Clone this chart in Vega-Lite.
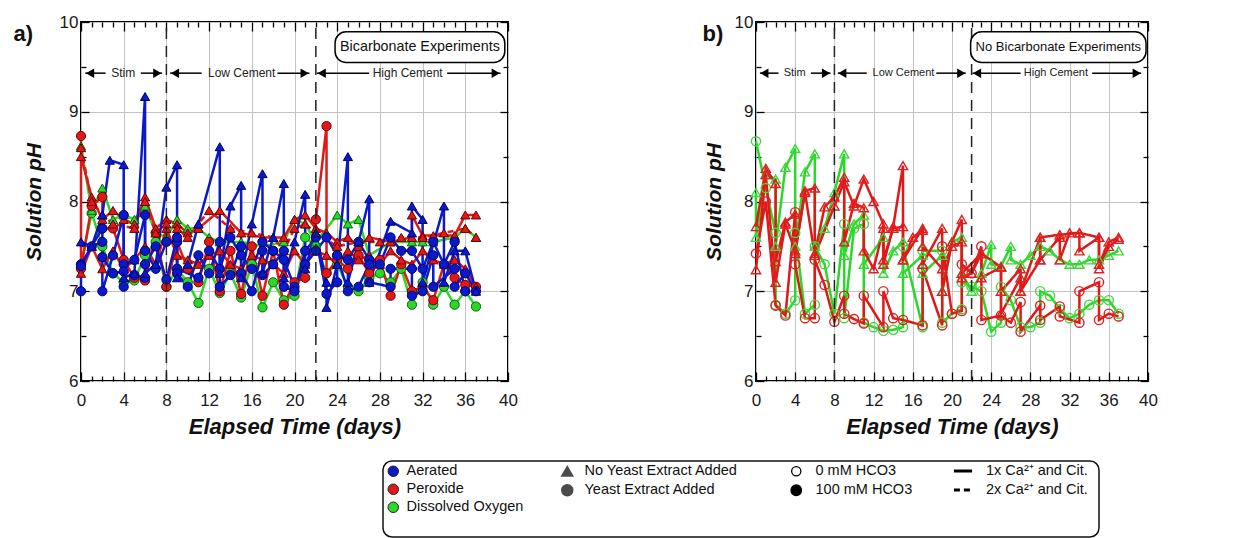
{
"$schema": "https://vega.github.io/schema/vega-lite/v6.json",
"padding": {"left": 12, "top": 12, "right": 5, "bottom": 0},
"spacing": 22,
"datasets": {
"series": [
{"s":"D2","p":"a","c":"Dissolved Oxygen","fc":"Dissolved Oxygen","y":"Yeast Extract Added","h":"100 mM HCO3","d":"1x Ca²⁺ and Cit.","k":"aD"},
{"s":"D1","p":"a","c":"Dissolved Oxygen","fc":"Dissolved Oxygen","y":"No Yeast Extract Added","h":"100 mM HCO3","d":"1x Ca²⁺ and Cit.","k":"aD"},
{"s":"P2","p":"a","c":"Peroxide","fc":"Peroxide","y":"Yeast Extract Added","h":"100 mM HCO3","d":"1x Ca²⁺ and Cit.","k":"aP"},
{"s":"P1","p":"a","c":"Peroxide","fc":"Peroxide","y":"No Yeast Extract Added","h":"100 mM HCO3","d":"1x Ca²⁺ and Cit.","k":"aP"},
{"s":"P4","p":"a","c":"Peroxide","fc":"Peroxide","y":"No Yeast Extract Added","h":"100 mM HCO3","d":"1x Ca²⁺ and Cit.","k":"aP"},
{"s":"P3","p":"a","c":"Peroxide","fc":"Peroxide","y":"No Yeast Extract Added","h":"100 mM HCO3","d":"2x Ca²⁺ and Cit.","k":"aP"},
{"s":"A3","p":"a","c":"Aerated","fc":"Aerated","y":"Yeast Extract Added","h":"100 mM HCO3","d":"1x Ca²⁺ and Cit.","k":"aA"},
{"s":"A2","p":"a","c":"Aerated","fc":"Aerated","y":"Yeast Extract Added","h":"100 mM HCO3","d":"1x Ca²⁺ and Cit.","k":"aA"},
{"s":"A1","p":"a","c":"Aerated","fc":"Aerated","y":"No Yeast Extract Added","h":"100 mM HCO3","d":"1x Ca²⁺ and Cit.","k":"aA"},
{"s":"bD2","p":"b","c":"Dissolved Oxygen","fc":"open","y":"Yeast Extract Added","h":"0 mM HCO3","d":"1x Ca²⁺ and Cit.","k":"bD"},
{"s":"bD1","p":"b","c":"Dissolved Oxygen","fc":"open","y":"No Yeast Extract Added","h":"0 mM HCO3","d":"1x Ca²⁺ and Cit.","k":"bD"},
{"s":"bP2","p":"b","c":"Peroxide","fc":"open","y":"Yeast Extract Added","h":"0 mM HCO3","d":"1x Ca²⁺ and Cit.","k":"bP"},
{"s":"bP1","p":"b","c":"Peroxide","fc":"open","y":"No Yeast Extract Added","h":"0 mM HCO3","d":"1x Ca²⁺ and Cit.","k":"bP"},
{"s":"bP3","p":"b","c":"Peroxide","fc":"open","y":"No Yeast Extract Added","h":"0 mM HCO3","d":"1x Ca²⁺ and Cit.","k":"bP"}
],
"obs": [
{"s":"D2","t":0,"v":7.3},{"s":"D2","t":1,"v":7.87},{"s":"D2","t":2,"v":7.5},{"s":"D2","t":3,"v":7.2},{"s":"D2","t":4,"v":7.1},{"s":"D2","t":5,"v":7.12},{"s":"D2","t":6,"v":7.4},{"s":"D2","t":7,"v":7.55},{"s":"D2","t":8,"v":7.05},{"s":"D2","t":9,"v":7.25},{"s":"D2","t":10,"v":7.1},{"s":"D2","t":11,"v":6.87},{"s":"D2","t":12,"v":7.25},{"s":"D2","t":13,"v":6.98},{"s":"D2","t":14,"v":7.2},{"s":"D2","t":15,"v":6.93},{"s":"D2","t":16,"v":7.3},{"s":"D2","t":17,"v":6.82},{"s":"D2","t":18,"v":7.1},{"s":"D2","t":19,"v":6.9},{"s":"D2","t":20,"v":6.95},{"s":"D2","t":21,"v":7.6},{"s":"D2","t":22,"v":7.5},{"s":"D2","t":23,"v":7.2},{"s":"D2","t":24,"v":7.3},{"s":"D2","t":25,"v":7.05},{"s":"D2","t":26,"v":7.0},{"s":"D2","t":27,"v":7.15},{"s":"D2","t":28,"v":7.2},{"s":"D2","t":29,"v":7.1},{"s":"D2","t":30,"v":7.25},{"s":"D2","t":31,"v":6.85},{"s":"D2","t":32,"v":7.1},{"s":"D2","t":33,"v":6.85},{"s":"D2","t":34,"v":7.05},{"s":"D2","t":35,"v":6.85},{"s":"D2","t":36,"v":7.0},{"s":"D2","t":37,"v":6.83},
{"s":"D1","t":0,"v":8.62},{"s":"D1","t":1,"v":7.9},{"s":"D1","t":2,"v":8.15},{"s":"D1","t":3,"v":7.8},{"s":"D1","t":4,"v":7.85},{"s":"D1","t":5,"v":7.8},{"s":"D1","t":6,"v":7.95},{"s":"D1","t":7,"v":7.65},{"s":"D1","t":8,"v":7.6},{"s":"D1","t":9,"v":7.8},{"s":"D1","t":10,"v":7.7},{"s":"D1","t":11,"v":7.7},{"s":"D1","t":12,"v":7.6},{"s":"D1","t":13,"v":7.55},{"s":"D1","t":15,"v":7.55},{"s":"D1","t":17,"v":7.5},{"s":"D1","t":19,"v":7.55},{"s":"D1","t":20,"v":7.8},{"s":"D1","t":21,"v":7.75},{"s":"D1","t":22,"v":7.55},{"s":"D1","t":24,"v":7.85},{"s":"D1","t":25,"v":7.75},{"s":"D1","t":26,"v":7.8},{"s":"D1","t":27,"v":7.4},{"s":"D1","t":29,"v":7.55},{"s":"D1","t":31,"v":7.55},{"s":"D1","t":32,"v":7.55},{"s":"D1","t":33,"v":7.55},{"s":"D1","t":35,"v":7.6},{"s":"D1","t":36,"v":7.7},{"s":"D1","t":37,"v":7.6},
{"s":"P2","t":0,"v":8.73},{"s":"P2","t":0,"v":7.25},{"s":"P2","t":1,"v":7.95},{"s":"P2","t":2,"v":8.05},{"s":"P2","t":2,"v":7.7},{"s":"P2","t":3,"v":7.7},{"s":"P2","t":4,"v":7.35},{"s":"P2","t":5,"v":7.15},{"s":"P2","t":6,"v":7.12},{"s":"P2","t":7,"v":7.65},{"s":"P2","t":8,"v":7.05},{"s":"P2","t":9,"v":7.55},{"s":"P2","t":10,"v":7.25},{"s":"P2","t":11,"v":7.1},{"s":"P2","t":12,"v":7.55},{"s":"P2","t":13,"v":7.0},{"s":"P2","t":14,"v":7.45},{"s":"P2","t":15,"v":6.97},{"s":"P2","t":16,"v":7.5},{"s":"P2","t":17,"v":6.95},{"s":"P2","t":18,"v":7.45},{"s":"P2","t":19,"v":6.85},{"s":"P2","t":20,"v":7.1},{"s":"P2","t":21,"v":7.15},{"s":"P2","t":22,"v":7.8},{"s":"P2","t":23,"v":8.84},{"s":"P2","t":23,"v":7.2},{"s":"P2","t":24,"v":7.35},{"s":"P2","t":25,"v":7.25},{"s":"P2","t":26,"v":7.4},{"s":"P2","t":27,"v":7.2},{"s":"P2","t":28,"v":7.35},{"s":"P2","t":29,"v":6.95},{"s":"P2","t":30,"v":7.3},{"s":"P2","t":31,"v":7.0},{"s":"P2","t":32,"v":7.05},{"s":"P2","t":33,"v":6.9},{"s":"P2","t":34,"v":7.3},{"s":"P2","t":35,"v":7.15},{"s":"P2","t":36,"v":7.07},{"s":"P2","t":37,"v":7.05},
{"s":"P1","t":0,"v":8.5},{"s":"P1","t":1,"v":8.05},{"s":"P1","t":2,"v":7.8},{"s":"P1","t":3,"v":7.9},{"s":"P1","t":4,"v":7.8},{"s":"P1","t":5,"v":7.75},{"s":"P1","t":6,"v":8.05},{"s":"P1","t":7,"v":7.7},{"s":"P1","t":8,"v":7.8},{"s":"P1","t":9,"v":7.75},{"s":"P1","t":10,"v":7.65},{"s":"P1","t":11,"v":7.7},{"s":"P1","t":13,"v":7.9},{"s":"P1","t":15,"v":7.65},{"s":"P1","t":17,"v":7.6},{"s":"P1","t":19,"v":7.6},{"s":"P1","t":20,"v":7.8},{"s":"P1","t":21,"v":7.85},{"s":"P1","t":22,"v":7.7},{"s":"P1","t":23,"v":7.65},{"s":"P1","t":24,"v":7.55},{"s":"P1","t":25,"v":7.6},{"s":"P1","t":26,"v":7.5},{"s":"P1","t":27,"v":7.6},{"s":"P1","t":29,"v":7.55},{"s":"P1","t":31,"v":7.6},{"s":"P1","t":31,"v":7.85},{"s":"P1","t":32,"v":7.62},{"s":"P1","t":33,"v":7.62},{"s":"P1","t":35,"v":7.62},{"s":"P1","t":36,"v":7.85},{"s":"P1","t":37,"v":7.85},
{"s":"P4","t":0,"v":7.2},{"s":"P4","t":1,"v":7.5},{"s":"P4","t":2,"v":7.25},{"s":"P4","t":3,"v":7.45},{"s":"P4","t":4,"v":7.25},{"s":"P4","t":5,"v":7.35},{"s":"P4","t":6,"v":7.5},{"s":"P4","t":7,"v":7.3},{"s":"P4","t":8,"v":7.7},{"s":"P4","t":9,"v":7.4},{"s":"P4","t":10,"v":7.35},{"s":"P4","t":11,"v":7.3},{"s":"P4","t":12,"v":7.4},{"s":"P4","t":13,"v":7.45},{"s":"P4","t":14,"v":7.3},{"s":"P4","t":15,"v":7.25},{"s":"P4","t":16,"v":7.4},{"s":"P4","t":17,"v":7.35},{"s":"P4","t":18,"v":7.3},{"s":"P4","t":19,"v":7.2},{"s":"P4","t":20,"v":7.45},{"s":"P4","t":21,"v":7.3},{"s":"P4","t":22,"v":7.45},{"s":"P4","t":23,"v":7.4},{"s":"P4","t":24,"v":7.3},{"s":"P4","t":25,"v":7.45},{"s":"P4","t":26,"v":7.35},{"s":"P4","t":27,"v":7.4},{"s":"P4","t":28,"v":7.3},{"s":"P4","t":29,"v":7.45},{"s":"P4","t":30,"v":7.35},{"s":"P4","t":31,"v":7.3},{"s":"P4","t":32,"v":7.45},{"s":"P4","t":33,"v":7.35},{"s":"P4","t":34,"v":7.3},{"s":"P4","t":35,"v":7.35},{"s":"P4","t":36,"v":7.25},{"s":"P4","t":37,"v":7.05},
{"s":"P3","t":0,"v":8.6},{"s":"P3","t":1,"v":8.0},{"s":"P3","t":2,"v":7.85},{"s":"P3","t":3,"v":7.75},{"s":"P3","t":5,"v":7.7},{"s":"P3","t":6,"v":8.0},{"s":"P3","t":7,"v":7.65},{"s":"P3","t":8,"v":7.75},{"s":"P3","t":9,"v":7.7},{"s":"P3","t":10,"v":7.6},{"s":"P3","t":11,"v":7.75},{"s":"P3","t":12,"v":7.9},{"s":"P3","t":14,"v":7.7},{"s":"P3","t":16,"v":7.65},{"s":"P3","t":18,"v":7.6},{"s":"P3","t":19,"v":7.45},{"s":"P3","t":20,"v":7.7},{"s":"P3","t":21,"v":7.75},{"s":"P3","t":22,"v":7.65},{"s":"P3","t":24,"v":7.5},{"s":"P3","t":26,"v":7.55},{"s":"P3","t":28,"v":7.55},{"s":"P3","t":30,"v":7.6},{"s":"P3","t":32,"v":7.6},{"s":"P3","t":34,"v":7.65},{"s":"P3","t":36,"v":7.7},{"s":"P3","t":37,"v":7.6},
{"s":"A3","t":0,"v":7.3},{"s":"A3","t":2,"v":7.7},{"s":"A3","t":2,"v":7.0},{"s":"A3","t":3,"v":7.4},{"s":"A3","t":4,"v":7.85},{"s":"A3","t":4,"v":7.3},{"s":"A3","t":5,"v":7.35},{"s":"A3","t":6,"v":7.85},{"s":"A3","t":6,"v":7.45},{"s":"A3","t":7,"v":7.25},{"s":"A3","t":8,"v":7.55},{"s":"A3","t":9,"v":7.55},{"s":"A3","t":9,"v":7.25},{"s":"A3","t":11,"v":7.15},{"s":"A3","t":12,"v":7.45},{"s":"A3","t":13,"v":7.25},{"s":"A3","t":14,"v":7.6},{"s":"A3","t":15,"v":7.4},{"s":"A3","t":16,"v":7.25},{"s":"A3","t":17,"v":7.55},{"s":"A3","t":18,"v":7.45},{"s":"A3","t":19,"v":7.35},{"s":"A3","t":20,"v":7.05},{"s":"A3","t":21,"v":7.3},{"s":"A3","t":22,"v":7.45},{"s":"A3","t":23,"v":7.6},{"s":"A3","t":24,"v":7.4},{"s":"A3","t":25,"v":7.35},{"s":"A3","t":26,"v":7.55},{"s":"A3","t":27,"v":7.35},{"s":"A3","t":28,"v":7.3},{"s":"A3","t":29,"v":7.6},{"s":"A3","t":30,"v":7.45},{"s":"A3","t":31,"v":7.45},{"s":"A3","t":32,"v":7.25},{"s":"A3","t":33,"v":7.55},{"s":"A3","t":34,"v":7.3},{"s":"A3","t":35,"v":7.55},{"s":"A3","t":36,"v":7.0},
{"s":"A2","t":0,"v":7.0},{"s":"A2","t":0,"v":7.28},{"s":"A2","t":1,"v":7.5},{"s":"A2","t":2,"v":7.55},{"s":"A2","t":2,"v":7.38},{"s":"A2","t":3,"v":7.2},{"s":"A2","t":4,"v":7.22},{"s":"A2","t":4,"v":7.05},{"s":"A2","t":5,"v":7.18},{"s":"A2","t":6,"v":7.15},{"s":"A2","t":6,"v":7.3},{"s":"A2","t":7,"v":7.5},{"s":"A2","t":8,"v":7.13},{"s":"A2","t":9,"v":7.6},{"s":"A2","t":9,"v":7.2},{"s":"A2","t":10,"v":7.05},{"s":"A2","t":11,"v":7.4},{"s":"A2","t":12,"v":7.2},{"s":"A2","t":13,"v":7.55},{"s":"A2","t":13,"v":7.05},{"s":"A2","t":14,"v":7.18},{"s":"A2","t":15,"v":7.5},{"s":"A2","t":15,"v":7.2},{"s":"A2","t":16,"v":7.0},{"s":"A2","t":17,"v":7.45},{"s":"A2","t":17,"v":7.18},{"s":"A2","t":18,"v":7.3},{"s":"A2","t":19,"v":7.45},{"s":"A2","t":19,"v":7.05},{"s":"A2","t":20,"v":7.0},{"s":"A2","t":21,"v":7.45},{"s":"A2","t":22,"v":7.6},{"s":"A2","t":23,"v":6.97},{"s":"A2","t":24,"v":7.1},{"s":"A2","t":24,"v":7.4},{"s":"A2","t":25,"v":7.0},{"s":"A2","t":26,"v":7.05},{"s":"A2","t":27,"v":7.3},{"s":"A2","t":27,"v":7.1},{"s":"A2","t":29,"v":7.05},{"s":"A2","t":29,"v":7.25},{"s":"A2","t":31,"v":7.25},{"s":"A2","t":31,"v":6.95},{"s":"A2","t":32,"v":7.0},{"s":"A2","t":33,"v":7.4},{"s":"A2","t":33,"v":7.05},{"s":"A2","t":35,"v":7.25},{"s":"A2","t":35,"v":7.05},{"s":"A2","t":36,"v":7.2},{"s":"A2","t":37,"v":7.0},
{"s":"A1","t":0,"v":7.55},{"s":"A1","t":1,"v":7.5},{"s":"A1","t":2,"v":7.85},{"s":"A1","t":2.7,"v":8.46},{"s":"A1","t":4,"v":8.41},{"s":"A1","t":4,"v":7.15},{"s":"A1","t":5,"v":7.2},{"s":"A1","t":6,"v":9.17},{"s":"A1","t":6,"v":7.2},{"s":"A1","t":7,"v":7.3},{"s":"A1","t":8,"v":8.16},{"s":"A1","t":9,"v":8.41},{"s":"A1","t":9,"v":7.15},{"s":"A1","t":10,"v":7.3},{"s":"A1","t":11,"v":7.75},{"s":"A1","t":13,"v":8.61},{"s":"A1","t":13,"v":7.2},{"s":"A1","t":14,"v":7.95},{"s":"A1","t":15,"v":8.18},{"s":"A1","t":15,"v":7.15},{"s":"A1","t":16,"v":7.75},{"s":"A1","t":17,"v":8.31},{"s":"A1","t":17,"v":7.2},{"s":"A1","t":18,"v":7.6},{"s":"A1","t":19,"v":8.2},{"s":"A1","t":19,"v":7.15},{"s":"A1","t":20,"v":7.55},{"s":"A1","t":21,"v":8.08},{"s":"A1","t":21,"v":7.25},{"s":"A1","t":22,"v":7.65},{"s":"A1","t":23,"v":7.1},{"s":"A1","t":23,"v":6.82},{"s":"A1","t":24,"v":7.3},{"s":"A1","t":25,"v":8.5},{"s":"A1","t":25,"v":7.1},{"s":"A1","t":26,"v":7.55},{"s":"A1","t":27,"v":8.03},{"s":"A1","t":27,"v":7.1},{"s":"A1","t":29,"v":7.78},{"s":"A1","t":31,"v":7.65},{"s":"A1","t":31,"v":7.95},{"s":"A1","t":32,"v":7.8},{"s":"A1","t":32,"v":7.1},{"s":"A1","t":34,"v":7.95},{"s":"A1","t":34,"v":7.1},{"s":"A1","t":35,"v":7.45},{"s":"A1","t":36,"v":7.45},{"s":"A1","t":37,"v":7.0},
{"s":"bD2","t":0,"v":8.67},{"s":"bD2","t":1,"v":8.15},{"s":"bD2","t":2,"v":7.65},{"s":"bD2","t":2,"v":6.85},{"s":"bD2","t":3,"v":6.75},{"s":"bD2","t":4,"v":6.9},{"s":"bD2","t":4,"v":7.65},{"s":"bD2","t":5,"v":6.75},{"s":"bD2","t":6,"v":6.85},{"s":"bD2","t":6,"v":7.5},{"s":"bD2","t":7,"v":7.3},{"s":"bD2","t":8,"v":6.75},{"s":"bD2","t":9,"v":7.75},{"s":"bD2","t":9,"v":6.7},{"s":"bD2","t":10,"v":7.7},{"s":"bD2","t":11,"v":7.75},{"s":"bD2","t":11,"v":6.65},{"s":"bD2","t":12,"v":6.6},{"s":"bD2","t":13,"v":6.56},{"s":"bD2","t":14,"v":6.57},{"s":"bD2","t":15,"v":6.6},{"s":"bD2","t":15,"v":7.5},{"s":"bD2","t":17,"v":6.6},{"s":"bD2","t":17,"v":7.45},{"s":"bD2","t":19,"v":7.45},{"s":"bD2","t":19,"v":6.65},{"s":"bD2","t":20,"v":6.75},{"s":"bD2","t":21,"v":6.8},{"s":"bD2","t":21,"v":7.1},{"s":"bD2","t":22,"v":7.05},{"s":"bD2","t":23,"v":7.0},{"s":"bD2","t":24,"v":6.55},{"s":"bD2","t":25,"v":6.65},{"s":"bD2","t":25,"v":7.05},{"s":"bD2","t":26,"v":6.9},{"s":"bD2","t":27,"v":6.6},{"s":"bD2","t":28,"v":6.6},{"s":"bD2","t":29,"v":6.65},{"s":"bD2","t":29,"v":7.0},{"s":"bD2","t":30,"v":6.95},{"s":"bD2","t":31,"v":6.8},{"s":"bD2","t":32,"v":6.7},{"s":"bD2","t":33,"v":6.75},{"s":"bD2","t":34,"v":6.85},{"s":"bD2","t":35,"v":6.9},{"s":"bD2","t":36,"v":6.9},{"s":"bD2","t":37,"v":6.75},
{"s":"bD1","t":0,"v":8.1},{"s":"bD1","t":0,"v":7.6},{"s":"bD1","t":1,"v":8.3},{"s":"bD1","t":2,"v":8.25},{"s":"bD1","t":2,"v":7.5},{"s":"bD1","t":3,"v":8.38},{"s":"bD1","t":4,"v":8.59},{"s":"bD1","t":4,"v":7.5},{"s":"bD1","t":5,"v":8.33},{"s":"bD1","t":6,"v":8.53},{"s":"bD1","t":6,"v":7.5},{"s":"bD1","t":7,"v":7.7},{"s":"bD1","t":8,"v":8.1},{"s":"bD1","t":9,"v":8.53},{"s":"bD1","t":9,"v":7.4},{"s":"bD1","t":10,"v":7.75},{"s":"bD1","t":11,"v":7.85},{"s":"bD1","t":11,"v":7.3},{"s":"bD1","t":13,"v":7.6},{"s":"bD1","t":13,"v":7.2},{"s":"bD1","t":14,"v":7.45},{"s":"bD1","t":15,"v":7.55},{"s":"bD1","t":15,"v":7.2},{"s":"bD1","t":17,"v":7.4},{"s":"bD1","t":17,"v":7.2},{"s":"bD1","t":19,"v":7.4},{"s":"bD1","t":19,"v":7.0},{"s":"bD1","t":20,"v":7.55},{"s":"bD1","t":21,"v":7.6},{"s":"bD1","t":21,"v":7.2},{"s":"bD1","t":22,"v":7.0},{"s":"bD1","t":23,"v":7.2},{"s":"bD1","t":24,"v":7.52},{"s":"bD1","t":24,"v":7.3},{"s":"bD1","t":25,"v":7.28},{"s":"bD1","t":26,"v":7.5},{"s":"bD1","t":26,"v":7.35},{"s":"bD1","t":27,"v":7.3},{"s":"bD1","t":28,"v":7.4},{"s":"bD1","t":29,"v":7.5},{"s":"bD1","t":30,"v":7.45},{"s":"bD1","t":31,"v":7.35},{"s":"bD1","t":32,"v":7.3},{"s":"bD1","t":33,"v":7.3},{"s":"bD1","t":34,"v":7.35},{"s":"bD1","t":35,"v":7.35},{"s":"bD1","t":36,"v":7.4},{"s":"bD1","t":37,"v":7.45},
{"s":"bP2","t":0,"v":7.42},{"s":"bP2","t":1,"v":8.0},{"s":"bP2","t":2,"v":6.84},{"s":"bP2","t":3,"v":6.73},{"s":"bP2","t":4,"v":7.88},{"s":"bP2","t":4,"v":7.3},{"s":"bP2","t":5,"v":6.7},{"s":"bP2","t":6,"v":6.7},{"s":"bP2","t":6,"v":7.35},{"s":"bP2","t":7,"v":7.07},{"s":"bP2","t":8,"v":6.66},{"s":"bP2","t":9,"v":6.95},{"s":"bP2","t":9,"v":6.75},{"s":"bP2","t":10,"v":6.69},{"s":"bP2","t":11,"v":6.64},{"s":"bP2","t":11,"v":6.95},{"s":"bP2","t":13,"v":6.6},{"s":"bP2","t":13,"v":7.0},{"s":"bP2","t":14,"v":6.7},{"s":"bP2","t":15,"v":6.68},{"s":"bP2","t":17,"v":6.62},{"s":"bP2","t":17,"v":7.25},{"s":"bP2","t":19,"v":6.62},{"s":"bP2","t":19,"v":7.5},{"s":"bP2","t":20,"v":6.75},{"s":"bP2","t":21,"v":6.78},{"s":"bP2","t":21,"v":7.3},{"s":"bP2","t":22,"v":7.2},{"s":"bP2","t":23,"v":7.5},{"s":"bP2","t":23,"v":6.68},{"s":"bP2","t":25,"v":6.73},{"s":"bP2","t":26,"v":6.65},{"s":"bP2","t":27,"v":6.88},{"s":"bP2","t":27,"v":6.55},{"s":"bP2","t":29,"v":6.84},{"s":"bP2","t":29,"v":6.68},{"s":"bP2","t":31,"v":6.83},{"s":"bP2","t":31,"v":6.72},{"s":"bP2","t":33,"v":6.65},{"s":"bP2","t":33,"v":7.0},{"s":"bP2","t":35,"v":7.1},{"s":"bP2","t":35,"v":6.68},{"s":"bP2","t":36,"v":6.75},{"s":"bP2","t":37,"v":6.72},
{"s":"bP1","t":0,"v":7.72},{"s":"bP1","t":1,"v":8.37},{"s":"bP1","t":2,"v":8.2},{"s":"bP1","t":2,"v":7.33},{"s":"bP1","t":3,"v":7.77},{"s":"bP1","t":4,"v":7.86},{"s":"bP1","t":4,"v":7.42},{"s":"bP1","t":5,"v":8.12},{"s":"bP1","t":6,"v":8.15},{"s":"bP1","t":6,"v":7.42},{"s":"bP1","t":7,"v":7.94},{"s":"bP1","t":8,"v":8.05},{"s":"bP1","t":9,"v":8.27},{"s":"bP1","t":9,"v":7.55},{"s":"bP1","t":10,"v":7.98},{"s":"bP1","t":11,"v":7.93},{"s":"bP1","t":11,"v":7.45},{"s":"bP1","t":12,"v":7.25},{"s":"bP1","t":13,"v":7.7},{"s":"bP1","t":13,"v":7.3},{"s":"bP1","t":14,"v":7.72},{"s":"bP1","t":15,"v":8.4},{"s":"bP1","t":15,"v":7.35},{"s":"bP1","t":16,"v":7.6},{"s":"bP1","t":17,"v":7.68},{"s":"bP1","t":17,"v":7.3},{"s":"bP1","t":19,"v":7.7},{"s":"bP1","t":19,"v":7.0},{"s":"bP1","t":20,"v":7.55},{"s":"bP1","t":21,"v":7.8},{"s":"bP1","t":21,"v":7.2},{"s":"bP1","t":23,"v":7.42},{"s":"bP1","t":23,"v":7.15},{"s":"bP1","t":25,"v":7.27},{"s":"bP1","t":25,"v":7.0},{"s":"bP1","t":27,"v":7.25},{"s":"bP1","t":27,"v":7.0},{"s":"bP1","t":29,"v":7.35},{"s":"bP1","t":29,"v":7.6},{"s":"bP1","t":31,"v":7.63},{"s":"bP1","t":33,"v":7.65},{"s":"bP1","t":33,"v":7.45},{"s":"bP1","t":35,"v":7.6},{"s":"bP1","t":35,"v":7.3},{"s":"bP1","t":36,"v":7.55},{"s":"bP1","t":37,"v":7.6},
{"s":"bP3","t":0,"v":7.24},{"s":"bP3","t":1,"v":8.3},{"s":"bP3","t":2,"v":7.1},{"s":"bP3","t":3,"v":7.75},{"s":"bP3","t":4,"v":7.45},{"s":"bP3","t":5,"v":8.1},{"s":"bP3","t":6,"v":7.4},{"s":"bP3","t":8,"v":7.95},{"s":"bP3","t":9,"v":8.22},{"s":"bP3","t":10,"v":7.95},{"s":"bP3","t":11,"v":8.25},{"s":"bP3","t":12,"v":8.0},{"s":"bP3","t":13,"v":7.75},{"s":"bP3","t":13,"v":7.35},{"s":"bP3","t":14,"v":7.7},{"s":"bP3","t":15,"v":7.72},{"s":"bP3","t":15,"v":7.35},{"s":"bP3","t":17,"v":7.7},{"s":"bP3","t":17,"v":7.5},{"s":"bP3","t":19,"v":7.25},{"s":"bP3","t":20,"v":7.5},{"s":"bP3","t":21,"v":7.55},{"s":"bP3","t":21,"v":7.15},{"s":"bP3","t":22,"v":7.2},{"s":"bP3","t":23,"v":7.42},{"s":"bP3","t":25,"v":7.27},{"s":"bP3","t":25,"v":6.75},{"s":"bP3","t":27,"v":7.15},{"s":"bP3","t":27,"v":7.0},{"s":"bP3","t":29,"v":7.6},{"s":"bP3","t":29,"v":7.35},{"s":"bP3","t":31,"v":7.6},{"s":"bP3","t":31,"v":7.35},{"s":"bP3","t":32,"v":7.65},{"s":"bP3","t":33,"v":7.65},{"s":"bP3","t":35,"v":7.6},{"s":"bP3","t":35,"v":7.25},{"s":"bP3","t":36,"v":7.5},{"s":"bP3","t":37,"v":7.58}
],
"seg": [{"x1":0.4,"x2":2.3},{"x1":5.6,"x2":7.6},{"x1":8.35,"x2":11.3},{"x1":18.4,"x2":21.4},{"x1":22.1,"x2":27.0},{"x1":34.3,"x2":39.3}],
"heads": [{"x":0.85,"dir":"L"},{"x":7.15,"dir":"R"},{"x":8.8,"dir":"L"},{"x":20.95,"dir":"R"},{"x":22.55,"dir":"L"},{"x":38.85,"dir":"R"}],
"phase": [{"x":3.95,"label":"Stim"},{"x":15.05,"label":"Low Cement"},{"x":30.6,"label":"High Cement"}],
"vlines": [{"x":8},{"x":22}],
"boxes": [{"p":"a","x1":23.8,"x2":39.7,"xc":31.75,"label":"Bicarbonate Experiments"},{"p":"b","x1":21.9,"x2":39.8,"xc":30.85,"label":"No Bicarbonate Experiments"}],
"tags": [{"p":"a","x":-5.4,"label":"a)"},{"p":"b","x":-4.4,"label":"b)"}]
},
"vconcat": [
{"spacing": 182, "hconcat": [
{
"width": 427, "height": 359,
"resolve": {"axis": {"x": "independent", "y": "independent"}},
"layer": [
{"data": {"name": "obs"},
 "transform": [{"lookup": "s", "from": {"data": {"name": "series"}, "key": "s", "fields": ["p","c","fc","y","h","d","k"]}}, {"filter": "datum.p === 'a'"}],
 "mark": {"type": "line", "strokeWidth": 2.5},
 "encoding": {
  "x": {"field": "t", "type": "quantitative", "scale": {"domain": [0,40], "nice": false, "zero": false},
   "axis": {"orient": "bottom", "values": [0,1,2,3,4,5,6,7,8,9,10,11,12,13,14,15,16,17,18,19,20,21,22,23,24,25,26,27,28,29,30,31,32,33,34,35,36,37,38,39,40], "format": "~g", "labelExpr": "datum.value % 4 === 0 ? datum.label : ''", "labelOverlap": false, "labelFlush": false, "tickSize": {"condition": {"test": "datum.value % 4 === 0", "value": -9}, "value": -5}, "grid": true, "gridOpacity": {"condition": {"test": "datum.value % 4 === 0", "value": 1}, "value": 0}, "labelPadding": 20, "title": "Elapsed Time (days)", "titlePadding": 4}},
  "y": {"field": "v", "type": "quantitative", "scale": {"domain": [6,10], "nice": false, "zero": false},
   "axis": {"orient": "left", "values": [6,6.5,7,7.5,8,8.5,9,9.5,10], "format": "~g", "labelExpr": "datum.value % 1 === 0 ? datum.label : ''", "labelOverlap": false, "labelFlush": false, "tickSize": {"condition": {"test": "datum.value % 1 === 0", "value": -8}, "value": -5}, "grid": true, "gridOpacity": {"condition": {"test": "datum.value % 1 === 0", "value": 1}, "value": 0}, "labelPadding": 11, "title": "Solution pH", "titleFontSize": 21, "titlePadding": 15}},
  "color": {"field": "c", "type": "nominal", "scale": {"domain": ["Peroxide","Aerated","Dissolved Oxygen"], "range": ["#e01818","#0a1ac8","#2ad82a"]}, "legend": null},
  "strokeDash": {"field": "d", "type": "nominal", "scale": {"domain": ["1x Ca²⁺ and Cit.","2x Ca²⁺ and Cit."], "range": [[1,0],[6,4]]}, "legend": {"orient": "none", "legendX": 871, "legendY": 438, "title": null, "symbolType": "stroke", "symbolStrokeColor": "black", "symbolStrokeWidth": 3, "symbolSize": 330, "labelOffset": 12, "rowPadding": 1}},
  "detail": {"field": "s"},
  "order": {"value": null}
 }},
{"data": {"name": "obs"},
 "transform": [{"lookup": "s", "from": {"data": {"name": "series"}, "key": "s", "fields": ["p","c","fc","y","h","d","k"]}}, {"filter": "datum.p === 'a'"}],
 "mark": {"type": "point", "filled": true, "strokeWidth": 1},
 "encoding": {
  "x": {"field": "t", "type": "quantitative", "scale": {"domain": [0,40], "nice": false, "zero": false},
   "axis": {"orient": "top", "values": [0,1,2,3,4,5,6,7,8,9,10,11,12,13,14,15,16,17,18,19,20,21,22,23,24,25,26,27,28,29,30,31,32,33,34,35,36,37,38,39,40], "labels": false, "grid": false, "title": null, "tickSize": {"condition": {"test": "datum.value % 4 === 0", "value": -9}, "value": -5}}},
  "y": {"field": "v", "type": "quantitative", "scale": {"domain": [6,10], "nice": false, "zero": false},
   "axis": {"orient": "right", "values": [6,6.5,7,7.5,8,8.5,9,9.5,10], "labels": false, "grid": false, "title": null, "tickSize": {"condition": {"test": "datum.value % 1 === 0", "value": -8}, "value": -5}}},
  "fill": {"field": "fc", "type": "nominal", "scale": {"domain": ["Aerated","Peroxide","Dissolved Oxygen","open"], "range": ["#0a1ac8","#e01818","#2ad82a","transparent"]}, "legend": {"orient": "none", "legendX": 305, "legendY": 442, "title": null, "values": ["Aerated","Peroxide","Dissolved Oxygen"], "labelOffset": 6, "symbolSize": 110, "symbolStrokeColor": "#222", "symbolStrokeWidth": 1, "symbolOpacity": 1, "rowPadding": 2}},
  "stroke": {"field": "k", "type": "nominal", "scale": {"domain": ["aA","aP","aD","bP","bD"], "range": ["#00006e","#6e0000","#0a640a","#e02020","#3cd83c"]}, "legend": null},
  "shape": {"field": "y", "type": "nominal", "scale": {"domain": ["No Yeast Extract Added","Yeast Extract Added"], "range": ["triangle-up","circle"]}, "legend": {"orient": "none", "legendX": 479, "legendY": 442, "title": null, "labelOffset": 10, "symbolFillColor": "black", "symbolStrokeColor": "black", "symbolSize": 120, "rowPadding": 2}},
  "size": {"field": "h", "type": "nominal", "scale": {"domain": ["0 mM HCO3","100 mM HCO3"], "range": [85,85]}, "legend": {"orient": "none", "legendX": 708, "legendY": 442, "title": null, "values": ["0 mM HCO3"], "labelOffset": 12, "symbolType": "circle", "symbolFillColor": "transparent", "symbolStrokeColor": "black", "symbolStrokeWidth": 1.3, "symbolOpacity": 1}},
  "opacity": {"field": "h", "type": "nominal", "scale": {"domain": ["100 mM HCO3","0 mM HCO3"], "range": [1,1]}, "legend": {"orient": "none", "legendX": 708, "legendY": 461, "title": null, "values": ["100 mM HCO3"], "labelOffset": 12, "symbolType": "circle", "symbolSize": 110, "symbolFillColor": "black", "symbolStrokeColor": "black", "symbolStrokeWidth": 1.3, "symbolOpacity": 1}}
 }},
{"data": {"name": "vlines"}, "mark": {"type": "rule", "strokeDash": [11,7], "strokeWidth": 1.5, "color": "#222"},
 "encoding": {"x": {"field": "x", "type": "quantitative", "scale": {"domain": [0,40], "nice": false, "zero": false}, "axis": null},
  "y": {"datum": 6, "type": "quantitative", "scale": {"domain": [6,10], "nice": false, "zero": false}, "axis": null}, "y2": {"datum": 9.97}}},
{"data": {"name": "seg"}, "mark": {"type": "rule", "strokeWidth": 1.5, "color": "black"},
 "encoding": {"x": {"field": "x1", "type": "quantitative", "scale": {"domain": [0,40], "nice": false, "zero": false}, "axis": null}, "x2": {"field": "x2"},
  "y": {"datum": 9.43, "type": "quantitative", "scale": {"domain": [6,10], "nice": false, "zero": false}, "axis": null}}},
{"data": {"name": "heads"}, "transform": [{"filter": "datum.dir === 'L'"}], "mark": {"type": "point", "shape": "triangle-left", "filled": true, "color": "black", "size": 90, "opacity": 1},
 "encoding": {"x": {"field": "x", "type": "quantitative", "scale": {"domain": [0,40], "nice": false, "zero": false}, "axis": null},
  "y": {"datum": 9.43, "type": "quantitative", "scale": {"domain": [6,10], "nice": false, "zero": false}, "axis": null}}},
{"data": {"name": "heads"}, "transform": [{"filter": "datum.dir === 'R'"}], "mark": {"type": "point", "shape": "triangle-right", "filled": true, "color": "black", "size": 90, "opacity": 1},
 "encoding": {"x": {"field": "x", "type": "quantitative", "scale": {"domain": [0,40], "nice": false, "zero": false}, "axis": null},
  "y": {"datum": 9.43, "type": "quantitative", "scale": {"domain": [6,10], "nice": false, "zero": false}, "axis": null}}},
{"data": {"name": "phase"}, "mark": {"type": "text", "fontSize": 12, "color": "#222", "baseline": "middle"},
 "encoding": {"x": {"field": "x", "type": "quantitative", "scale": {"domain": [0,40], "nice": false, "zero": false}, "axis": null},
  "y": {"datum": 9.43, "type": "quantitative", "scale": {"domain": [6,10], "nice": false, "zero": false}, "axis": null}, "text": {"field": "label"}}},
{"data": {"name": "boxes"}, "transform": [{"filter": "datum.p === 'a'"}], "mark": {"type": "rect", "fill": "white", "stroke": "black", "strokeWidth": 1.5, "cornerRadius": 11},
 "encoding": {"x": {"field": "x1", "type": "quantitative", "scale": {"domain": [0,40], "nice": false, "zero": false}, "axis": null}, "x2": {"field": "x2"},
  "y": {"datum": 9.55, "type": "quantitative", "scale": {"domain": [6,10], "nice": false, "zero": false}, "axis": null}, "y2": {"datum": 9.89}}},
{"data": {"name": "boxes"}, "transform": [{"filter": "datum.p === 'a'"}], "mark": {"type": "text", "fontSize": 14.3, "color": "#111", "baseline": "middle"},
 "encoding": {"x": {"field": "xc", "type": "quantitative", "scale": {"domain": [0,40], "nice": false, "zero": false}, "axis": null},
  "y": {"datum": 9.72, "type": "quantitative", "scale": {"domain": [6,10], "nice": false, "zero": false}, "axis": null}, "text": {"field": "label"}}},
{"data": {"name": "tags"}, "transform": [{"filter": "datum.p === 'a'"}], "mark": {"type": "text", "fontSize": 22, "fontWeight": "bold", "color": "#111", "baseline": "middle"},
 "encoding": {"x": {"field": "x", "type": "quantitative", "scale": {"domain": [0,40], "nice": false, "zero": false}, "axis": null},
  "y": {"datum": 9.87, "type": "quantitative", "scale": {"domain": [6,10], "nice": false, "zero": false}, "axis": null}, "text": {"field": "label"}}}
]
},
{
"width": 392, "height": 359,
"resolve": {"axis": {"x": "independent", "y": "independent"}},
"layer": [
{"data": {"name": "obs"},
 "transform": [{"lookup": "s", "from": {"data": {"name": "series"}, "key": "s", "fields": ["p","c","fc","y","h","d","k"]}}, {"filter": "datum.p === 'b'"}],
 "mark": {"type": "line", "strokeWidth": 2.5},
 "encoding": {
  "x": {"field": "t", "type": "quantitative", "scale": {"domain": [0,40], "nice": false, "zero": false},
   "axis": {"orient": "bottom", "values": [0,1,2,3,4,5,6,7,8,9,10,11,12,13,14,15,16,17,18,19,20,21,22,23,24,25,26,27,28,29,30,31,32,33,34,35,36,37,38,39,40], "format": "~g", "labelExpr": "datum.value % 4 === 0 ? datum.label : ''", "labelOverlap": false, "labelFlush": false, "tickSize": {"condition": {"test": "datum.value % 4 === 0", "value": -9}, "value": -5}, "grid": true, "gridOpacity": {"condition": {"test": "datum.value % 4 === 0", "value": 1}, "value": 0}, "labelPadding": 20, "title": "Elapsed Time (days)", "titlePadding": 4}},
  "y": {"field": "v", "type": "quantitative", "scale": {"domain": [6,10], "nice": false, "zero": false},
   "axis": {"orient": "left", "values": [6,6.5,7,7.5,8,8.5,9,9.5,10], "format": "~g", "labelExpr": "datum.value % 1 === 0 ? datum.label : ''", "labelOverlap": false, "labelFlush": false, "tickSize": {"condition": {"test": "datum.value % 1 === 0", "value": -8}, "value": -5}, "grid": true, "gridOpacity": {"condition": {"test": "datum.value % 1 === 0", "value": 1}, "value": 0}, "labelPadding": 11, "title": "Solution pH", "titleFontSize": 21, "titlePadding": 10}},
  "color": {"field": "c", "type": "nominal", "scale": {"domain": ["Peroxide","Aerated","Dissolved Oxygen"], "range": ["#e01818","#0a1ac8","#2ad82a"]}, "legend": null},
  "strokeDash": {"field": "d", "type": "nominal", "scale": {"domain": ["1x Ca²⁺ and Cit.","2x Ca²⁺ and Cit."], "range": [[1,0],[6,4]]}, "legend": {"orient": "none", "legendX": 871, "legendY": 438, "title": null, "symbolType": "stroke", "symbolStrokeColor": "black", "symbolStrokeWidth": 3, "symbolSize": 330, "labelOffset": 12, "rowPadding": 1}},
  "detail": {"field": "s"},
  "order": {"value": null}
 }},
{"data": {"name": "obs"},
 "transform": [{"lookup": "s", "from": {"data": {"name": "series"}, "key": "s", "fields": ["p","c","fc","y","h","d","k"]}}, {"filter": "datum.p === 'b'"}],
 "mark": {"type": "point", "filled": true, "strokeWidth": 1.4},
 "encoding": {
  "x": {"field": "t", "type": "quantitative", "scale": {"domain": [0,40], "nice": false, "zero": false},
   "axis": {"orient": "top", "values": [0,1,2,3,4,5,6,7,8,9,10,11,12,13,14,15,16,17,18,19,20,21,22,23,24,25,26,27,28,29,30,31,32,33,34,35,36,37,38,39,40], "labels": false, "grid": false, "title": null, "tickSize": {"condition": {"test": "datum.value % 4 === 0", "value": -9}, "value": -5}}},
  "y": {"field": "v", "type": "quantitative", "scale": {"domain": [6,10], "nice": false, "zero": false},
   "axis": {"orient": "right", "values": [6,6.5,7,7.5,8,8.5,9,9.5,10], "labels": false, "grid": false, "title": null, "tickSize": {"condition": {"test": "datum.value % 1 === 0", "value": -8}, "value": -5}}},
  "fill": {"field": "fc", "type": "nominal", "scale": {"domain": ["Aerated","Peroxide","Dissolved Oxygen","open"], "range": ["#0a1ac8","#e01818","#2ad82a","transparent"]}, "legend": {"orient": "none", "legendX": 305, "legendY": 442, "title": null, "values": ["Aerated","Peroxide","Dissolved Oxygen"], "labelOffset": 6, "symbolSize": 110, "symbolStrokeColor": "#222", "symbolStrokeWidth": 1, "symbolOpacity": 1, "rowPadding": 2}},
  "stroke": {"field": "k", "type": "nominal", "scale": {"domain": ["aA","aP","aD","bP","bD"], "range": ["#00006e","#6e0000","#0a640a","#e02020","#3cd83c"]}, "legend": null},
  "shape": {"field": "y", "type": "nominal", "scale": {"domain": ["No Yeast Extract Added","Yeast Extract Added"], "range": ["triangle-up","circle"]}, "legend": {"orient": "none", "legendX": 479, "legendY": 442, "title": null, "labelOffset": 10, "symbolFillColor": "black", "symbolStrokeColor": "black", "symbolSize": 120, "rowPadding": 2}},
  "size": {"field": "h", "type": "nominal", "scale": {"domain": ["0 mM HCO3","100 mM HCO3"], "range": [85,85]}, "legend": {"orient": "none", "legendX": 708, "legendY": 442, "title": null, "values": ["0 mM HCO3"], "labelOffset": 12, "symbolType": "circle", "symbolFillColor": "transparent", "symbolStrokeColor": "black", "symbolStrokeWidth": 1.3, "symbolOpacity": 1}},
  "opacity": {"field": "h", "type": "nominal", "scale": {"domain": ["100 mM HCO3","0 mM HCO3"], "range": [1,1]}, "legend": {"orient": "none", "legendX": 708, "legendY": 461, "title": null, "values": ["100 mM HCO3"], "labelOffset": 12, "symbolType": "circle", "symbolSize": 110, "symbolFillColor": "black", "symbolStrokeColor": "black", "symbolStrokeWidth": 1.3, "symbolOpacity": 1}}
 }},
{"data": {"name": "vlines"}, "mark": {"type": "rule", "strokeDash": [11,7], "strokeWidth": 1.5, "color": "#222"},
 "encoding": {"x": {"field": "x", "type": "quantitative", "scale": {"domain": [0,40], "nice": false, "zero": false}, "axis": null},
  "y": {"datum": 6, "type": "quantitative", "scale": {"domain": [6,10], "nice": false, "zero": false}, "axis": null}, "y2": {"datum": 9.97}}},
{"data": {"name": "seg"}, "mark": {"type": "rule", "strokeWidth": 1.5, "color": "black"},
 "encoding": {"x": {"field": "x1", "type": "quantitative", "scale": {"domain": [0,40], "nice": false, "zero": false}, "axis": null}, "x2": {"field": "x2"},
  "y": {"datum": 9.43, "type": "quantitative", "scale": {"domain": [6,10], "nice": false, "zero": false}, "axis": null}}},
{"data": {"name": "heads"}, "transform": [{"filter": "datum.dir === 'L'"}], "mark": {"type": "point", "shape": "triangle-left", "filled": true, "color": "black", "size": 90, "opacity": 1},
 "encoding": {"x": {"field": "x", "type": "quantitative", "scale": {"domain": [0,40], "nice": false, "zero": false}, "axis": null},
  "y": {"datum": 9.43, "type": "quantitative", "scale": {"domain": [6,10], "nice": false, "zero": false}, "axis": null}}},
{"data": {"name": "heads"}, "transform": [{"filter": "datum.dir === 'R'"}], "mark": {"type": "point", "shape": "triangle-right", "filled": true, "color": "black", "size": 90, "opacity": 1},
 "encoding": {"x": {"field": "x", "type": "quantitative", "scale": {"domain": [0,40], "nice": false, "zero": false}, "axis": null},
  "y": {"datum": 9.43, "type": "quantitative", "scale": {"domain": [6,10], "nice": false, "zero": false}, "axis": null}}},
{"data": {"name": "phase"}, "mark": {"type": "text", "fontSize": 11, "color": "#222", "baseline": "middle"},
 "encoding": {"x": {"field": "x", "type": "quantitative", "scale": {"domain": [0,40], "nice": false, "zero": false}, "axis": null},
  "y": {"datum": 9.43, "type": "quantitative", "scale": {"domain": [6,10], "nice": false, "zero": false}, "axis": null}, "text": {"field": "label"}}},
{"data": {"name": "boxes"}, "transform": [{"filter": "datum.p === 'b'"}], "mark": {"type": "rect", "fill": "white", "stroke": "black", "strokeWidth": 1.5, "cornerRadius": 11},
 "encoding": {"x": {"field": "x1", "type": "quantitative", "scale": {"domain": [0,40], "nice": false, "zero": false}, "axis": null}, "x2": {"field": "x2"},
  "y": {"datum": 9.55, "type": "quantitative", "scale": {"domain": [6,10], "nice": false, "zero": false}, "axis": null}, "y2": {"datum": 9.89}}},
{"data": {"name": "boxes"}, "transform": [{"filter": "datum.p === 'b'"}], "mark": {"type": "text", "fontSize": 13, "color": "#111", "baseline": "middle"},
 "encoding": {"x": {"field": "xc", "type": "quantitative", "scale": {"domain": [0,40], "nice": false, "zero": false}, "axis": null},
  "y": {"datum": 9.72, "type": "quantitative", "scale": {"domain": [6,10], "nice": false, "zero": false}, "axis": null}, "text": {"field": "label"}}},
{"data": {"name": "tags"}, "transform": [{"filter": "datum.p === 'b'"}], "mark": {"type": "text", "fontSize": 22, "fontWeight": "bold", "color": "#111", "baseline": "middle"},
 "encoding": {"x": {"field": "x", "type": "quantitative", "scale": {"domain": [0,40], "nice": false, "zero": false}, "axis": null},
  "y": {"datum": 9.87, "type": "quantitative", "scale": {"domain": [6,10], "nice": false, "zero": false}, "axis": null}, "text": {"field": "label"}}}
]
}
]},
{"spacing": 0, "hconcat": [
 {"width": 301, "height": 76, "view": {"stroke": null}, "data": {"values": [{"z": 1}]}, "mark": {"type": "point", "opacity": 0}, "encoding": {}},
 {"width": 716, "height": 76, "view": {"stroke": "#111", "strokeWidth": 1.5, "cornerRadius": 9}, "data": {"values": [{"z": 1}]}, "mark": {"type": "point", "opacity": 0}, "encoding": {}}
]}
],
"config": {
 "font": "Liberation Sans",
 "view": {"stroke": "#000", "strokeWidth": 2},
 "axis": {"domain": false, "labelFont": "Liberation Sans", "labelFontSize": 17, "labelColor": "#1a1a1a", "titleFont": "Liberation Sans", "titleFontSize": 22, "titleFontWeight": "bold", "titleFontStyle": "italic", "titleColor": "#111", "gridColor": "#c4c4c4", "gridWidth": 1, "tickColor": "#000", "tickWidth": 1.3},
 "legend": {"labelFont": "Liberation Sans", "labelFontSize": 14.5, "labelColor": "#111", "padding": 0, "rowPadding": 2},
 "text": {"font": "Liberation Sans"}
}
}
